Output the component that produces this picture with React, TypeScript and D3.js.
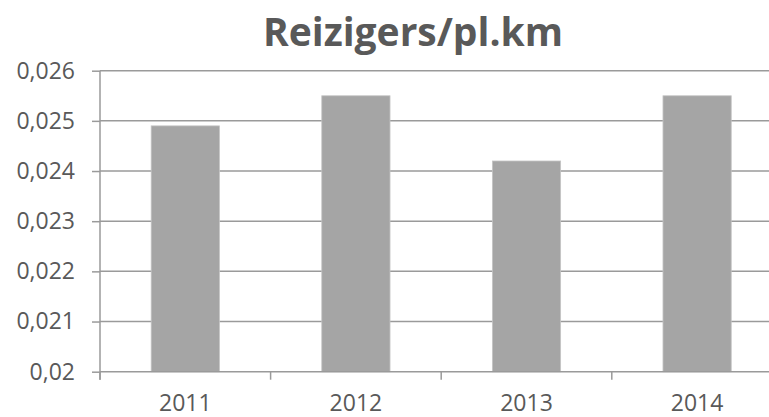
import { useEffect, useRef } from 'react'
import * as d3 from 'd3'

const years = ['2011', '2012', '2013', '2014']
const reizigersPerKm = [0.0249, 0.0255, 0.0242, 0.0255]
const yTicks = [0.02, 0.021, 0.022, 0.023, 0.024, 0.025, 0.026]
const chartTitle = 'Reizigers/pl.km'

export default function App() {
  const svgRef = useRef<SVGSVGElement>(null)

  useEffect(() => {
    if (!svgRef.current) return
    const width = 769
    const height = 417
    const left = 100
    const right = 782.4
    const top = 70.7
    const bottom = 371.7

    const svg = d3.select(svgRef.current)
    svg.selectAll('*').remove()
    svg.attr('width', width).attr('height', height)

    const font = '"Open Sans", "Liberation Sans", sans-serif'
    const axisColor = '#9a9a9a'
    const textColor = '#595959'

    const x = d3.scaleBand<string>()
      .domain(years)
      .range([left, right])
      .paddingInner(0.6)
      .paddingOuter(0.3)

    const y = d3.scaleLinear().domain([0.02, 0.026]).range([bottom, top])

    // Title
    svg.append('text')
      .attr('x', 413).attr('y', 46)
      .attr('text-anchor', 'middle')
      .attr('font-family', font).attr('font-weight', 'bold')
      .attr('font-size', '39px').attr('fill', textColor)
      .text(chartTitle)

    // Gridlines
    svg.append('g')
      .selectAll('line')
      .data(yTicks.slice(1))
      .join('line')
      .attr('x1', left).attr('x2', right)
      .attr('y1', d => y(d)).attr('y2', d => y(d))
      .attr('stroke', axisColor).attr('stroke-width', 1.5)

    // Bars
    svg.append('g')
      .selectAll('rect')
      .data(years)
      .join('rect')
      .attr('x', d => x(d)!)
      .attr('width', x.bandwidth())
      .attr('y', (d, i) => y(reizigersPerKm[i]))
      .attr('height', (d, i) => bottom - y(reizigersPerKm[i]))
      .attr('fill', '#a5a5a5')
      .attr('stroke', '#c4c4c4').attr('stroke-width', 0.8)

    // Y axis
    const yAxis = svg.append('g')
      .attr('transform', `translate(${left},0)`)
      .call(
        d3.axisLeft(y)
          .tickValues(yTicks)
          .tickSize(8)
          .tickPadding(17)
          .tickFormat(d => String(+d).replace('.', ','))
      )
    yAxis.select('.domain').attr('stroke', axisColor).attr('stroke-width', 1.5)
      .attr('d', `M0,${top}V${bottom + 8}`)
    yAxis.selectAll('line').attr('stroke', axisColor).attr('stroke-width', 1.5)
    yAxis.selectAll('text')
      .attr('font-family', font).attr('font-size', '23px').attr('fill', textColor)

    // X axis
    const step = x.step()
    const boundaries = d3.range(years.length + 1).map(i => left + i * step)
    svg.append('line')
      .attr('x1', left).attr('x2', right)
      .attr('y1', bottom).attr('y2', bottom)
      .attr('stroke', axisColor).attr('stroke-width', 1.5)
    svg.append('g')
      .selectAll('line')
      .data(boundaries)
      .join('line')
      .attr('x1', d => d).attr('x2', d => d)
      .attr('y1', bottom).attr('y2', bottom + 8)
      .attr('stroke', axisColor).attr('stroke-width', 1.5)
    svg.append('g')
      .selectAll('text')
      .data(years)
      .join('text')
      .attr('x', d => x(d)! + x.bandwidth() / 2)
      .attr('y', 411)
      .attr('text-anchor', 'middle')
      .attr('font-family', font).attr('font-size', '23px').attr('fill', textColor)
      .text(d => d)
  }, [])

  return (
    <svg ref={svgRef} style={{ position: 'fixed', left: 0, top: 0, background: '#fff' }} />
  )
}
